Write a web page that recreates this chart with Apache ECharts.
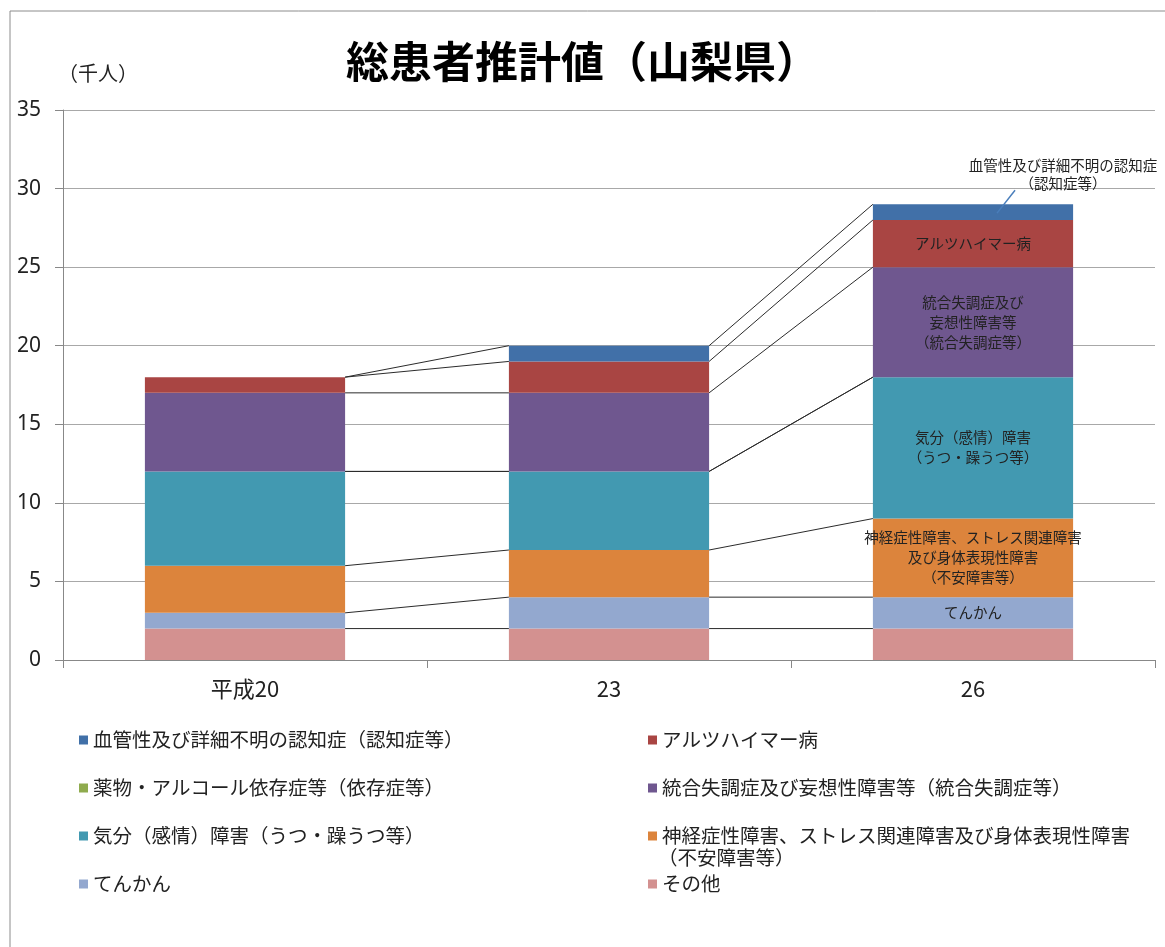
<!DOCTYPE html>
<html>
<head>
<meta charset="utf-8">
<script src="https://cdn.jsdelivr.net/npm/echarts@6/dist/echarts.min.js"></script>
<style>
html,body{margin:0;padding:0;background:#fff;}
#c{width:1165px;height:947px;}
</style>
</head>
<body>
<div id="c"></div>
<script>
// ---- data ----
const categories = ['平成20', '23', '26'];
const yTicks = [0, 5, 10, 15, 20, 25, 30, 35];
// series, bottom to top (千人)
const sonota   = [2, 2, 2];      // その他
const tenkan   = [1, 2, 2];      // てんかん
const shinkei  = [3, 3, 5];      // 神経症性障害…
const kibun    = [6, 5, 9];      // 気分（感情）障害
const yakubutsu= [0, 0, 0];      // 薬物・アルコール依存症等
const togo     = [5, 5, 7];      // 統合失調症…
const alz      = [1, 2, 3];      // アルツハイマー病
const kekkan   = [0, 1, 1];      // 血管性及び詳細不明の認知症

const names = {
  kekkan: '血管性及び詳細不明の認知症（認知症等）',
  alz: 'アルツハイマー病',
  yakubutsu: '薬物・アルコール依存症等（依存症等）',
  togo: '統合失調症及び妄想性障害等（統合失調症等）',
  kibun: '気分（感情）障害（うつ・躁うつ等）',
  shinkei: '神経症性障害、ストレス関連障害及び身体表現性障害',
  tenkan: 'てんかん',
  sonota: 'その他'
};
// in-bar labels (shown on last category only)
const barLabels = {
  alz: 'アルツハイマー病',
  togo: '統合失調症及び\n妄想性障害等\n（統合失調症等）',
  kibun: '気分（感情）障害\n（うつ・躁うつ等）',
  shinkei: '神経症性障害、ストレス関連障害\n及び身体表現性障害\n（不安障害等）',
  tenkan: 'てんかん',
  kekkan: '血管性及び詳細不明の認知症\n（認知症等）'
};

const colors = {
  sonota: '#d39190', tenkan: '#93a8cf', shinkei: '#dc843c', kibun: '#4299b1',
  yakubutsu: '#8fab4e', togo: '#6f578f', alz: '#a94543', kekkan: '#4170a8'
};

const stackOrder = ['sonota','tenkan','shinkei','kibun','yakubutsu','togo','alz','kekkan'];
const values = {sonota, tenkan, shinkei, kibun, yakubutsu, togo, alz, kekkan};

const FONT = '"Noto Sans CJK JP", "Noto Sans", sans-serif';
const BAR_W = 0.55;
const lblStyle = {color: '#222', fontSize: 14.5, lineHeight: 20, fontFamily: FONT};
const last = categories.length - 1;

const barSeries = stackOrder.map(key => {
  const data = values[key].map((v, i) => {
    if (i === last && barLabels[key]) {
      return {value: v, label: Object.assign({show: true, formatter: barLabels[key]}, lblStyle)};
    }
    return v;
  });
  const s = {
    name: names[key],
    type: 'bar',
    stack: 'total',
    barWidth: (BAR_W * 100) + '%',
    itemStyle: {color: colors[key]},
    label: {show: false},
    data: data,
    z: 3
  };
  if (key === 'kekkan') {
    s.data = values[key].map((v, i) => i === last ? {value: v, label: Object.assign({show: true, position: 'top', distance: 4, formatter: barLabels[key]}, lblStyle, {lineHeight: 18})} : v);
    s.labelLayout = {dx: 90, dy: -8};
  }
  return s;
});

// cumulative tops
const cum = categories.map((c, i) => {
  let t = 0; const arr = [];
  stackOrder.forEach(key => { t += values[key][i]; arr.push(t); });
  return arr;
});

// connector (series) lines between adjacent bars
const connData = [];
for (let i = 0; i < categories.length - 1; i++) {
  stackOrder.forEach((key, k) => connData.push([i, cum[i][k], cum[i + 1][k]]));
}
const connSeries = {
  type: 'custom',
  silent: true,
  z: 4,
  encode: {x: 0, y: [1, 2]},
  data: connData,
  renderItem: function (params, api) {
    const i = api.value(0);
    const p1 = api.coord([i, api.value(1)]);
    const p2 = api.coord([i + 1, api.value(2)]);
    const hw = api.size([1, 0])[0] * BAR_W / 2;
    return {
      type: 'line',
      shape: {x1: p1[0] + hw, y1: p1[1], x2: p2[0] - hw, y2: p2[1]},
      style: {stroke: '#2b2b2b', lineWidth: 1}
    };
  }
};

// leader line from the top segment of the last bar to its outside label
const topIdx = stackOrder.length - 1;
const leaderSeries = {
  type: 'custom',
  silent: true,
  z: 5,
  encode: {x: 0, y: [1, 2]},
  data: [[last, cum[last][topIdx - 1], cum[last][topIdx]]],
  renderItem: function (params, api) {
    const i = api.value(0);
    const lo = api.coord([i, api.value(1)]);
    const hi = api.coord([i, api.value(2)]);
    const bw = api.size([1, 0])[0] * BAR_W;
    const left = lo[0] - bw / 2;
    return {
      type: 'line',
      shape: {
        x1: left + bw * 0.62, y1: (lo[1] + hi[1]) / 2 + 1,
        x2: left + bw * 0.71, y2: hi[1] - 14
      },
      style: {stroke: '#4a7ebb', lineWidth: 1.5}
    };
  }
};

const legendText = {color: '#222', fontSize: 19.5, lineHeight: 20, fontFamily: FONT};
const legendCommon = {
  orient: 'vertical', icon: 'rect', itemWidth: 9, itemHeight: 9, itemGap: 28,
  textStyle: legendText, selectedMode: false, padding: 0
};

const chart = echarts.init(document.getElementById('c'));
chart.setOption({
  animation: false,
  backgroundColor: '#fff',
  title: {
    text: '総患者推計値（山梨県）',
    left: 'center', top: 35,
    textStyle: {fontSize: 43, fontWeight: 'bold', color: '#000', fontFamily: FONT}
  },
  grid: {left: 63, right: 10, top: 110, bottom: 287, containLabel: false},
  xAxis: {
    type: 'category',
    data: categories,
    axisLine: {lineStyle: {color: '#888'}},
    axisTick: {show: true, length: 8, lineStyle: {color: '#888'}},
    axisLabel: {color: '#222', fontSize: 22, margin: 18, fontFamily: FONT}
  },
  yAxis: {
    type: 'value',
    min: yTicks[0], max: yTicks[yTicks.length - 1], interval: yTicks[1] - yTicks[0],
    axisLine: {show: true, lineStyle: {color: '#888'}},
    axisTick: {show: true, length: 8, lineStyle: {color: '#888'}},
    axisLabel: {color: '#222', fontSize: 21, margin: 22, fontFamily: '"Noto Sans", sans-serif'},
    splitLine: {lineStyle: {color: '#a8a8a8', width: 1}}
  },
  legend: [
    Object.assign({left: 79, top: 730, data: [names.kekkan, names.yakubutsu, names.kibun, names.tenkan]}, legendCommon),
    Object.assign({left: 648, top: 730, data: [names.alz, names.togo, names.shinkei]}, legendCommon),
    Object.assign({left: 648, top: 874, data: [names.sonota]}, legendCommon)
  ],
  graphic: [
    {type: 'line', shape: {x1: 10, y1: 11, x2: 1165, y2: 11}, style: {stroke: '#8c8c8c', lineWidth: 1}},
    {type: 'line', shape: {x1: 10, y1: 11, x2: 10, y2: 947}, style: {stroke: '#8c8c8c', lineWidth: 1}},
    {type: 'text', left: 58, top: 63, style: {text: '（千人）', fill: '#222', font: '20px ' + FONT}},
    {type: 'text', left: 658, top: 848, style: {text: '（不安障害等）', fill: '#222', font: '19.5px ' + FONT}}
  ],
  series: barSeries.concat([connSeries, leaderSeries])
});
</script>
</body>
</html>
